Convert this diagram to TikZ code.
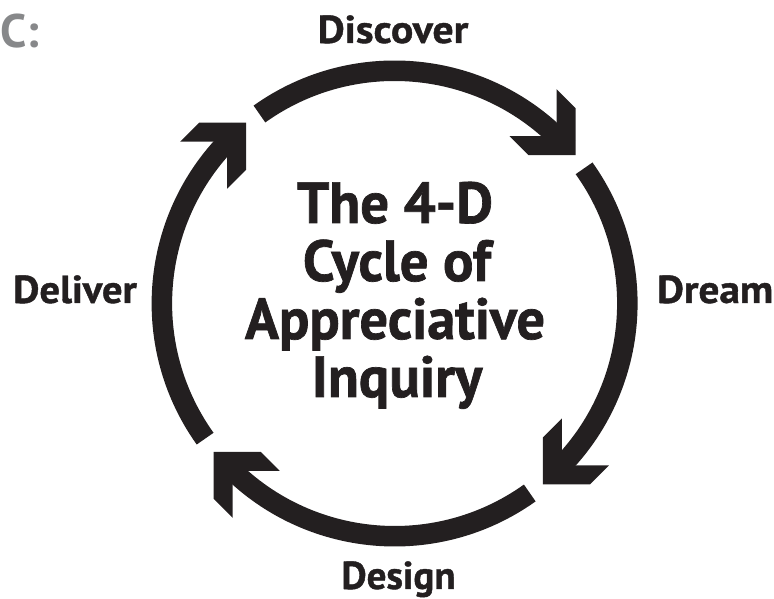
\documentclass[tikz,border=0pt]{standalone}
\usepackage{fontspec}
\setmainfont{PT Sans}
\definecolor{ink}{HTML}{231F20}
\definecolor{cgray}{HTML}{87888A}
\begin{document}
\begin{tikzpicture}[x=1pt,y=1pt,
  ring/.style={draw=ink,line width=20.5pt,line cap=butt},
  chev/.style={fill=ink},
  lbl/.style={font=\bfseries\fontsize{39}{40}\selectfont\addfontfeature{FakeBold=1},text=ink,inner sep=0pt,anchor=base},
  ttl/.style={font=\bfseries\fontsize{58}{58}\selectfont\addfontfeature{FakeBold=1.2},text=ink,inner sep=0pt,anchor=base}]
\useasboundingbox (0,0) rectangle (774,599);
\foreach \k in {0,1,2,3}{
 \begin{scope}[shift={(394.6,295.5)},rotate=-90*\k]
  \draw[ring] (125.5:232.75) arc[start angle=125.5,end angle=42,radius=232.75];
  \begin{scope}[shift={(39.35:234)}]
   \fill[chev] (0,0)--(0,47)--(-19,66)--(-19,19)--(-66,19)--(-47,0)--cycle;
  \end{scope}
 \end{scope}}
\node[lbl,xscale=1.07] (discover) at (393,556) {Discover};
\node[lbl,xscale=1.04] (deliver) at (75,296) {Deliver};
\node[lbl,anchor=base west,xscale=1.06] (dream) at (657,296) {Dream};
\node[lbl] (design) at (398.5,10) {Design};
\node[ttl,xscale=0.98] (t1) at (395,376) {The 4-D};
\node[ttl,xscale=0.98] (t2) at (397,318) {Cycle of};
\node[ttl,xscale=0.97] (t3) at (395,260) {Appreciative};
\node[ttl,xscale=0.98] (t4) at (397,202) {Inquiry};
\node[font=\bfseries\fontsize{47}{48}\selectfont,text=cgray,inner sep=0pt,anchor=base west] (c) at (0,551) {C:};
\end{tikzpicture}
\end{document}
